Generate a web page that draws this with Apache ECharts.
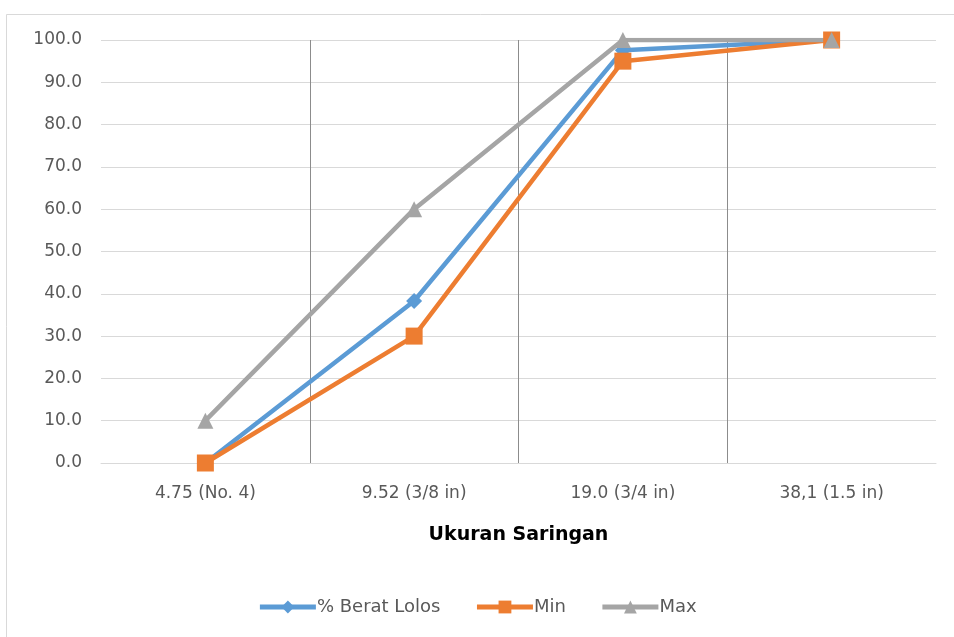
<!DOCTYPE html>
<html>
<head>
<meta charset="utf-8">
<script src="https://cdn.jsdelivr.net/npm/echarts@6/dist/echarts.min.js"></script>
<style>
  html, body { margin: 0; padding: 0; background: #fff; }
  #chart { width: 954px; height: 637px; }
</style>
</head>
<body>
<div id="chart"></div>
<script>
// Sieve sizes and passing percentages
const sieveSizes = ['4.75 (No. 4)', '9.52 (3/8 in)', '19.0 (3/4 in)', '38,1 (1.5 in)'];
const beratLolos = [0, 38.3, 97.6, 100];
const batasMin = [0, 30, 95, 100];
const batasMax = [10, 60, 100, 100];
const yTicks = { min: 0, max: 100, interval: 10 };

const FONT = 'DejaVu Sans, Noto Sans, sans-serif';
const TEXT = '#595959';

const chart = echarts.init(document.getElementById('chart'));

function lineSeries(name, data, color, symbol, symbolSize) {
  return {
    name: name,
    type: 'line',
    data: data,
    symbol: symbol,
    symbolSize: symbolSize,
    showAllSymbol: true,
    lineStyle: { color: color, width: 4.5 },
    itemStyle: { color: color, borderWidth: 0 },
    emphasis: { disabled: true },
    animation: false
  };
}

chart.setOption({
  backgroundColor: '#fff',
  textStyle: { fontFamily: FONT },
  graphic: [{
    type: 'rect',
    left: 4, top: 12,
    shape: { width: 980, height: 660 },
    style: { fill: 'none', stroke: '#d9d9d9', lineWidth: 1 },
    silent: true
  }],
  grid: { left: 101, right: 18, top: 40, bottom: 174, containLabel: false },
  xAxis: {
    type: 'category',
    data: sieveSizes,
    boundaryGap: true,
    name: 'Ukuran Saringan',
    nameLocation: 'middle',
    nameGap: 63,
    nameTextStyle: { fontFamily: FONT, fontSize: 19, fontWeight: 'bold', color: '#000' },
    axisLine: { show: true, lineStyle: { color: '#d9d9d9', width: 1 } },
    axisTick: { show: false },
    axisLabel: { color: TEXT, fontSize: 17, margin: 22, fontFamily: FONT },
    splitLine: {
      show: true,
      lineStyle: { color: ['rgba(0,0,0,0)', '#8c8c8c', '#8c8c8c', '#8c8c8c'], width: 1 }
    }
  },
  yAxis: {
    type: 'value',
    min: yTicks.min,
    max: yTicks.max,
    interval: yTicks.interval,
    axisLine: { show: false },
    axisTick: { show: false },
    axisLabel: {
      color: TEXT, fontSize: 17, margin: 19, fontFamily: FONT,
      formatter: v => v.toFixed(1)
    },
    splitLine: { show: true, lineStyle: { color: '#d9d9d9', width: 1 } }
  },
  legend: {
    bottom: 16,
    left: 'center',
    itemWidth: 56,
    itemHeight: 16,
    itemGap: 34,
    lineStyle: { width: 5 },
    textStyle: { color: TEXT, fontSize: 18, fontFamily: FONT, padding: [0, 0, 0, -4] },
    data: ['% Berat Lolos', 'Min', 'Max']
  },
  series: [
    lineSeries('% Berat Lolos', beratLolos, '#5b9bd5', 'diamond', 16),
    lineSeries('Min', batasMin, '#ed7d31', 'rect', 17),
    lineSeries('Max', batasMax, '#a5a5a5', 'triangle', 16)
  ]
});
</script>
</body>
</html>
